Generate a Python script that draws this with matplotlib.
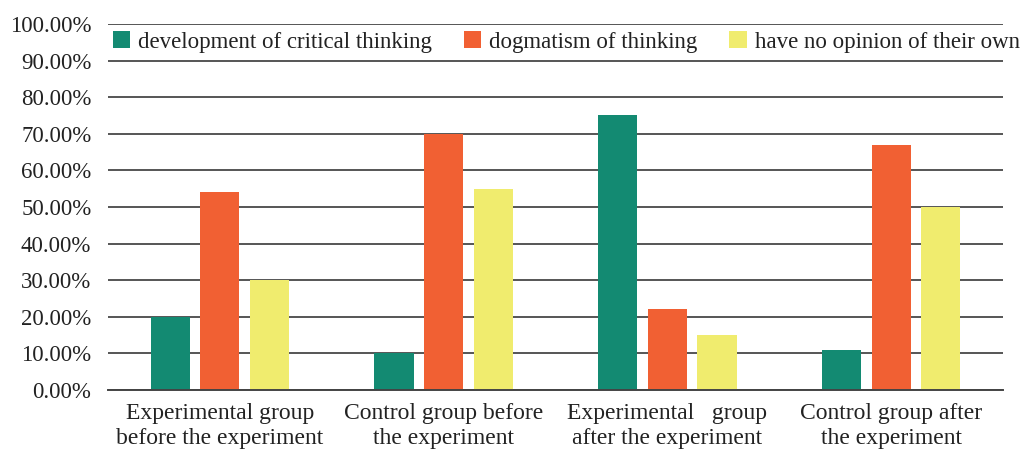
import matplotlib
matplotlib.use("Agg")
import matplotlib.pyplot as plt
import numpy as np
from matplotlib.ticker import FuncFormatter

categories = ["Experimental group\nbefore the experiment",
              "Control group before\nthe experiment",
              "Experimental   group\nafter the experiment",
              "Control group after\nthe experiment"]
series_names = ["development of critical thinking",
                "dogmatism of thinking",
                "have no opinion of their own"]
critical = [20, 10, 75, 11]
dogmatism = [54, 70, 22, 67]
no_opinion = [30, 55, 15, 50]
colors = ["#138A72", "#F16033", "#F0EC6E"]

plt.rcParams['font.family'] = ['Liberation Serif', 'DejaVu Serif']

fig = plt.figure(figsize=(10.24, 4.5), dpi=100)
ax = fig.add_axes([0.1055, 0.1333, 0.874, 0.8134])

x = np.arange(len(categories))
w = 0.175
off = 0.222
for i, (vals, name) in enumerate(zip([critical, dogmatism, no_opinion], series_names)):
    ax.bar(x + (i - 1) * off, vals, width=w, color=colors[i], label=name,
           zorder=3, edgecolor='none')

ax.set_xlim(-0.5, 3.5)
ax.set_ylim(0, 100)
ax.set_yticks(np.arange(0, 101, 10))
ax.yaxis.set_major_formatter(FuncFormatter(lambda v, p: f"{v:.2f}%"))
ax.grid(axis='y', color='#555555', linewidth=1.4, zorder=0)
ax.set_axisbelow(True)
for s in ['top', 'right', 'left']:
    ax.spines[s].set_visible(False)
ax.spines['bottom'].set_color('#444444')
ax.spines['bottom'].set_linewidth(1.4)
ax.spines['bottom'].set_zorder(4)
ax.tick_params(axis='y', length=0, labelsize=16.5, colors='#222222', pad=12)
ax.tick_params(axis='x', length=0, labelsize=17, colors='#222222', pad=9)
ax.set_xticks(x)
ax.set_xticklabels(categories, linespacing=1.3)

leg = ax.legend(loc='upper left', bbox_to_anchor=(-0.005, 1.005), ncol=3,
                frameon=False, fontsize=16.5, handlelength=0.75, handleheight=0.75,
                handletextpad=0.35, columnspacing=1.4, borderaxespad=0.0)
for t in leg.get_texts():
    t.set_color('#222222')

fig.savefig("out.png", dpi=100, facecolor='white')
